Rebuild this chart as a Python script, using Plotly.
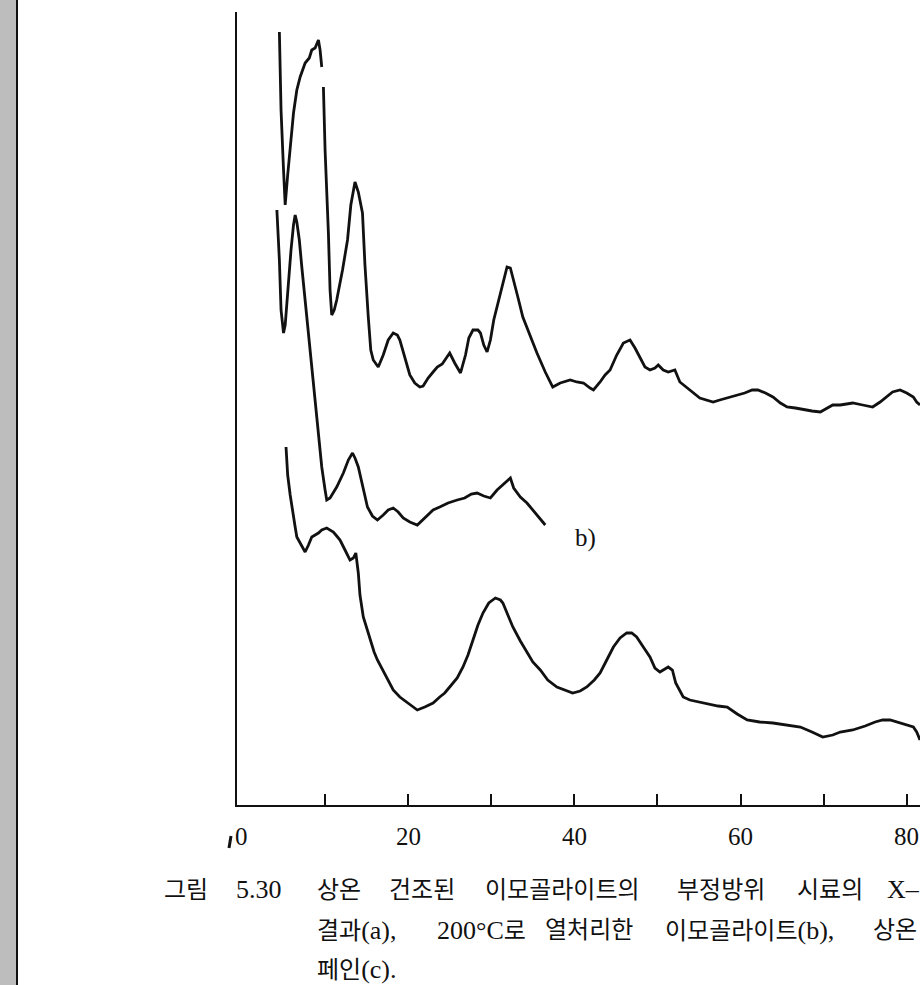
import plotly.graph_objects as go

# ---- data (2-theta in degrees, intensity in arbitrary units) ----
A_2THETA = [4.5, 4.7, 5.0, 5.2, 5.5, 5.9, 6.2, 6.6, 7.0, 7.6,
            8.1, 8.4, 8.8, 9.2, 9.4, 9.6, None,
            9.8, 10.0, 10.4, 10.6, 10.8, 11.1, 11.4, 12.1, 12.7, 13.1,
            13.6, 14.0, 14.5, 14.8, 15.2, 15.5, 15.8, 16.4, 17.0, 17.6,
            18.2, 18.7, 19.0, 19.6, 20.2, 20.8, 21.4, 21.8, 22.4, 23.0,
            23.5, 24.1, 24.7, 25.0, 25.6, 26.3, 26.9, 27.3, 27.8, 28.4,
            28.7, 29.1, 29.5, 29.9, 30.3, 30.7, 31.3, 31.9, 32.3, 32.6,
            33.2, 33.8, 34.7, 35.5, 36.5, 37.4, 38.3, 39.5, 40.3, 41.1,
            41.9, 42.3, 43.1, 43.7, 44.3, 45.1, 45.9, 46.7, 47.3, 47.9,
            48.5, 49.1, 49.7, 50.1, 50.7, 51.3, 52.1, 52.7, 53.1, 53.9,
            55.1, 56.7, 57.5, 58.4, 59.3, 60.5, 61.4, 62.1, 63.0, 63.9,
            64.8, 65.6, 66.6, 67.8, 68.6, 69.6, 70.4, 71.1, 72.0, 73.5,
            74.7, 75.9, 76.8, 77.6, 78.3, 79.2, 80.0, 80.8, 81.2, 81.6]
A_INT = [773, 695, 635, 600, 630, 670, 692, 715, 728, 742,
         747, 755, 757, 765, 755, 738, None,
         718, 655, 572, 515, 490, 495, 505, 535, 565, 600,
         623, 613, 592, 540, 488, 455, 445, 438, 450, 465,
         472, 470, 465, 447, 430, 422, 418, 419, 427, 433,
         438, 441, 448, 452, 442, 432, 450, 467, 475, 475,
         472, 460, 453, 465, 485, 498, 520, 538, 537, 528,
         508, 488, 468, 452, 433, 418, 422, 425, 423, 422,
         417, 415, 423, 430, 435, 450, 462, 465, 457, 448,
         438, 435, 437, 440, 435, 433, 435, 423, 420, 415,
         407, 403, 405, 407, 409, 412, 415, 415, 412, 408,
         402, 398, 397, 395, 394, 393, 397, 400, 400, 402,
         400, 398, 403, 408, 413, 415, 412, 408, 403, 400]

B_2THETA = [4.2, 4.5, 4.7, 5.0, 5.2, 5.5, 5.9, 6.2, 6.4, 6.6,
            6.9, 7.2, 7.6, 8.0, 8.3, 8.8, 9.2, 9.6, 10.0, 10.2,
            10.6, 10.8, 11.4, 12.2, 12.8, 13.3, 13.6, 14.0, 14.5, 15.1,
            15.7, 16.3, 17.0, 17.6, 18.2, 18.8, 19.4, 20.2, 21.1, 22.0,
            23.0, 23.8, 24.8, 25.9, 26.8, 27.6, 28.3, 29.1, 29.9, 30.7,
            31.4, 31.9, 32.3, 32.7, 33.5, 34.3, 35.0, 35.9, 36.5]
B_INT = [595, 545, 495, 472, 480, 515, 555, 580, 590, 583,
         565, 538, 505, 472, 440, 405, 370, 338, 315, 305,
         307, 310, 318, 332, 345, 352, 347, 338, 320, 298,
         289, 285, 290, 295, 297, 293, 287, 283, 280, 287,
         295, 298, 302, 305, 307, 311, 312, 309, 307, 315,
         320, 324, 327, 317, 308, 302, 295, 287, 280]

C_2THETA = [5.3, 5.5, 5.8, 6.0, 6.4, 6.6, 7.1, 7.6, 8.0, 8.4,
            9.2, 9.6, 10.2, 11.0, 11.4, 11.8, 12.4, 13.0, 13.4, 13.7,
            14.0, 14.2, 14.6, 15.1, 15.4, 15.9, 16.3, 16.9, 17.5, 18.2,
            19.0, 20.0, 21.1, 22.0, 23.0, 23.8, 24.4, 25.0, 25.9, 26.6,
            27.2, 27.8, 28.4, 29.0, 29.7, 30.5, 31.1, 31.4, 32.0, 32.6,
            33.5, 34.3, 35.0, 35.9, 36.8, 37.9, 38.9, 39.8, 40.7, 41.5,
            42.4, 43.1, 43.9, 44.7, 45.5, 46.3, 46.9, 47.5, 48.3, 49.1,
            49.7, 50.3, 51.3, 51.8, 52.2, 53.1, 53.9, 55.1, 56.3, 57.3,
            58.4, 59.6, 60.8, 62.3, 63.9, 65.6, 67.2, 68.6, 69.9, 71.1,
            72.0, 73.5, 75.0, 76.2, 77.1, 78.0, 79.2, 80.0, 80.8, 81.2,
            81.6]
C_INT = [358, 330, 310, 298, 278, 268, 260, 253, 260, 268,
         272, 275, 277, 273, 269, 265, 255, 245, 247, 252,
         232, 210, 188, 175, 165, 153, 145, 135, 125, 115,
         108, 102, 95, 98, 102, 108, 112, 118, 127, 138,
         150, 165, 180, 192, 202, 207, 205, 202, 190, 178,
         164, 152, 143, 135, 125, 118, 115, 112, 114, 118,
         125, 132, 145, 158, 167, 172, 172, 168, 158, 148,
         137, 133, 138, 135, 122, 108, 105, 103, 101, 99,
         98, 91, 85, 83, 82, 80, 78, 73, 68, 70,
         73, 75, 79, 83, 85, 85, 82, 80, 78, 73,
         65]

TICK_VALUES = [10, 20, 30, 40, 50, 60, 70, 80]
TICK_LABEL_VALUES = [0, 20, 40, 60, 80]
TICK_LABELS = ["0", "20", "40", "60", "80"]

LABEL_B = "b)"
LABEL_B_POS = (41.3, 267)

LAT = "<span style='font-size:26px'>{}</span>"
CAPTION_LINE1 = ["그림", LAT.format("5.30"), "상온", "건조된", "이모골라이트의",
                 "부정방위", "시료의", LAT.format("X–")]
CAPTION_LINE2 = ["결과" + LAT.format("(a),"), LAT.format("200°C") + "로", "열처리한",
                 "이모골라이트" + LAT.format("(b),"), "상온"]
CAPTION_LINE3 = ["페인" + LAT.format("(c).")]

# ---- layout (page pixels) ----
W, H = 920, 985
L, R, T, B = 237, 0, 12, 180
PW, PH = W - L - R, H - T - B
CAP_X = [[162, 234, 315, 387, 483, 675, 795, 885],
         [315, 435, 543, 663, 871],
         [315]]
CAP_Y = [890, 930, 969]


def px_to_paper_x(px):
    return (px - L) / PW


def py_to_paper_y(py):
    return (H - B - py) / PH


line_style = dict(color="#111111", width=2.8)

fig = go.Figure()
for xs, ys in [(A_2THETA, A_INT), (B_2THETA, B_INT), (C_2THETA, C_INT)]:
    fig.add_trace(go.Scatter(x=xs, y=ys, mode="lines", line=line_style,
                             connectgaps=False, showlegend=False,
                             hoverinfo="skip"))

serif = "Liberation Serif, Noto Sans CJK KR, serif"
cap_font = dict(family="Liberation Serif, Noto Sans CJK KR", size=24, color="#111111")

annotations = []
for v, t in zip(TICK_LABEL_VALUES, TICK_LABELS):
    annotations.append(dict(x=v, xref="x", y=py_to_paper_y(836), yref="paper",
                            text=t, showarrow=False, xanchor="center",
                            yanchor="middle",
                            font=dict(family=serif, size=25, color="#111111")))

annotations.append(dict(x=LABEL_B_POS[0], y=LABEL_B_POS[1], xref="x", yref="y",
                        text=LABEL_B, showarrow=False, xanchor="center",
                        yanchor="middle",
                        font=dict(family=serif, size=25, color="#111111")))

for words, xs, py in zip([CAPTION_LINE1, CAPTION_LINE2, CAPTION_LINE3], CAP_X, CAP_Y):
    for w, px in zip(words, xs):
        annotations.append(dict(x=px_to_paper_x(px), xref="paper",
                                y=py_to_paper_y(py), yref="paper", text=w,
                                showarrow=False, xanchor="left",
                                yanchor="middle", font=cap_font))

shapes = [
    # gray scan border strip at left
    dict(type="rect", xref="paper", yref="paper",
         x0=px_to_paper_x(0), x1=px_to_paper_x(17),
         y0=py_to_paper_y(H), y1=py_to_paper_y(0),
         fillcolor="#BDBDBD", line=dict(width=0), layer="below"),
    dict(type="line", xref="paper", yref="paper",
         x0=px_to_paper_x(17), x1=px_to_paper_x(17),
         y0=py_to_paper_y(H), y1=py_to_paper_y(0),
         line=dict(color="#111111", width=2)),
    # small scan mark next to the 0 label
    dict(type="line", xref="paper", yref="paper",
         x0=px_to_paper_x(229), x1=px_to_paper_x(231),
         y0=py_to_paper_y(848), y1=py_to_paper_y(836),
         line=dict(color="#111111", width=3)),
]

fig.update_layout(
    width=W, height=H,
    margin=dict(l=L, r=R, t=T, b=B, pad=0),
    paper_bgcolor="white", plot_bgcolor="white",
    annotations=annotations, shapes=shapes,
    xaxis=dict(range=[-0.6, 81.6], showline=True, linecolor="#111111",
               linewidth=2, ticks="inside", tickvals=TICK_VALUES, ticklen=11,
               tickwidth=2, tickcolor="#111111", showticklabels=False,
               showgrid=False, zeroline=False, fixedrange=True),
    yaxis=dict(range=[0, PH], showline=True, linecolor="#111111", linewidth=2,
               ticks="", showticklabels=False, showgrid=False,
               zeroline=False, fixedrange=True),
)

fig.write_html("out.html", config={"displayModeBar": False},
               post_script="document.body.style.margin='0';"
                           "document.body.style.overflow='hidden';")
